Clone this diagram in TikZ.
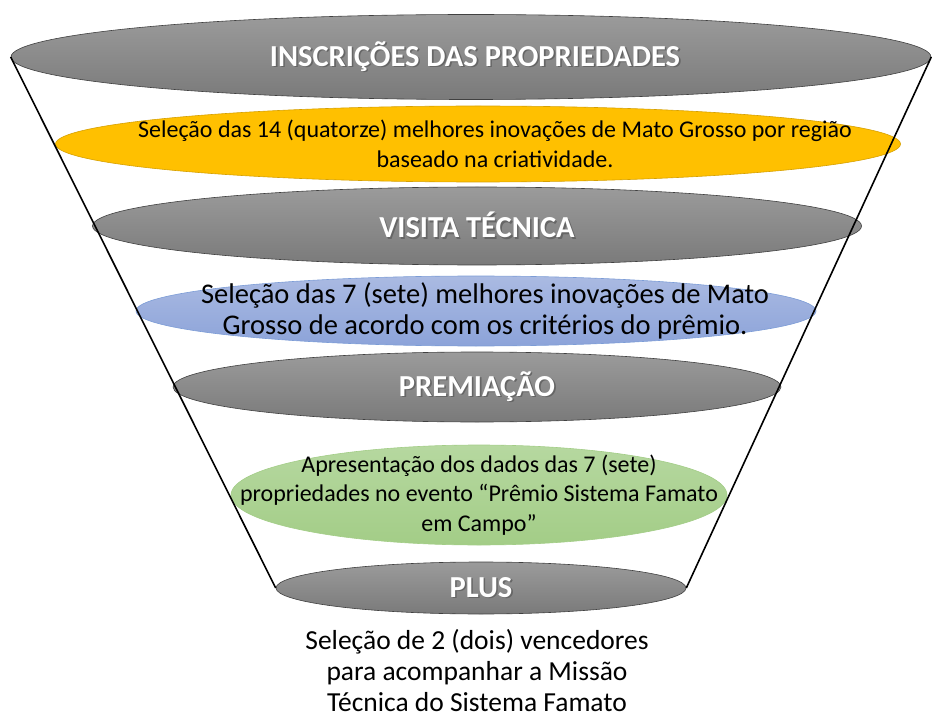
\documentclass[tikz,border=0pt]{standalone}
\usepackage{fontspec}
\setmainfont{Carlito}
\usepackage{tikz}
\usetikzlibrary{shapes.geometric}
\definecolor{cinzaA}{RGB}{155,155,155}
\definecolor{cinzaB}{RGB}{122,122,122}
\definecolor{amarelo}{RGB}{255,192,0}
\definecolor{amareloB}{RGB}{214,160,0}
\definecolor{azulA}{RGB}{170,186,226}
\definecolor{azulB}{RGB}{140,163,217}
\definecolor{azulB2}{RGB}{68,114,196}
\definecolor{verdeA}{RGB}{182,216,160}
\definecolor{verdeB}{RGB}{163,205,135}
% texto branco com sombra
\newcommand\sombreado[1]{\rlap{\kern1.6pt\raisebox{-1.6pt}{\textcolor{black!60}{#1}}}#1}
\tikzset{
  etapa/.style={ellipse, draw=black!75, line width=0.6pt, top color=cinzaA, bottom color=cinzaB, inner sep=0pt},
  faixa/.style={ellipse, line width=0.6pt, inner sep=0pt},
  titulo/.style={font=\bfseries\fontsize{30.5}{36}\selectfont, text=white},
  corpo/.style={align=center, font=\fontsize{24}{29.5}\selectfont},
  borda/.style={line width=1.6pt, black}
}
\begin{document}
\begin{tikzpicture}[x=1pt, y=-1pt]
  \useasboundingbox (0,0) rectangle (932,722);
  % elipses do funil
  \node[etapa, minimum width=920, minimum height=85] (inscr) at (471,57) {};
  \node[faixa, draw=amareloB, fill=amarelo, minimum width=845, minimum height=76] (sel14) at (478,144) {};
  \node[etapa, minimum width=769, minimum height=78] (visita) at (477,226) {};
  \node[faixa, draw=azulB2!70, top color=azulA, bottom color=azulB, minimum width=680, minimum height=70] (sel7) at (476,311) {};
  \node[etapa, minimum width=608, minimum height=70] (premio) at (477,387) {};
  \node[faixa, draw=verdeB, top color=verdeA, bottom color=verdeB, minimum width=496, minimum height=100] (apres) at (479,495) {};
  \node[etapa, minimum width=410, minimum height=52] (plus) at (481,588) {};
  % textos
  \node[titulo] (tInscr) at ([xshift=4pt]inscr.center) {\sombreado{INSCRIÇÕES DAS PROPRIEDADES}};
  \node[corpo] (tSel14) at ([xshift=17pt]sel14.center) {Seleção das 14 (quatorze) melhores inovações de Mato Grosso por região\\baseado na criatividade.};
  \node[titulo] (tVisita) at (visita) {\sombreado{VISITA TÉCNICA}};
  \node[corpo, font=\fontsize{28.5}{31}\selectfont] (tSel7) at ([xshift=9pt]sel7.center) {Seleção das 7 (sete) melhores inovações de Mato\\Grosso de acordo com os critérios do prêmio.};
  \node[titulo] (tPremio) at (premio) {\sombreado{PREMIAÇÃO}};
  \node[corpo] (tApres) at (apres.center) {Apresentação dos dados das 7 (sete)\\propriedades no evento “Prêmio Sistema Famato\\em Campo”};
  \node[titulo] (tPlus) at (plus) {\sombreado{PLUS}};
  \node[corpo, font=\fontsize{27.5}{31}\selectfont, anchor=north, inner sep=0pt] (tFinal) at (477,629) {Seleção de 2 (dois) vencedores\\para acompanhar a Missão\\Técnica do Sistema Famato};
  % laterais do funil
  \draw[borda] (inscr.west) -- (plus.west);
  \draw[borda] (inscr.east) -- (plus.east);
\end{tikzpicture}
\end{document}
